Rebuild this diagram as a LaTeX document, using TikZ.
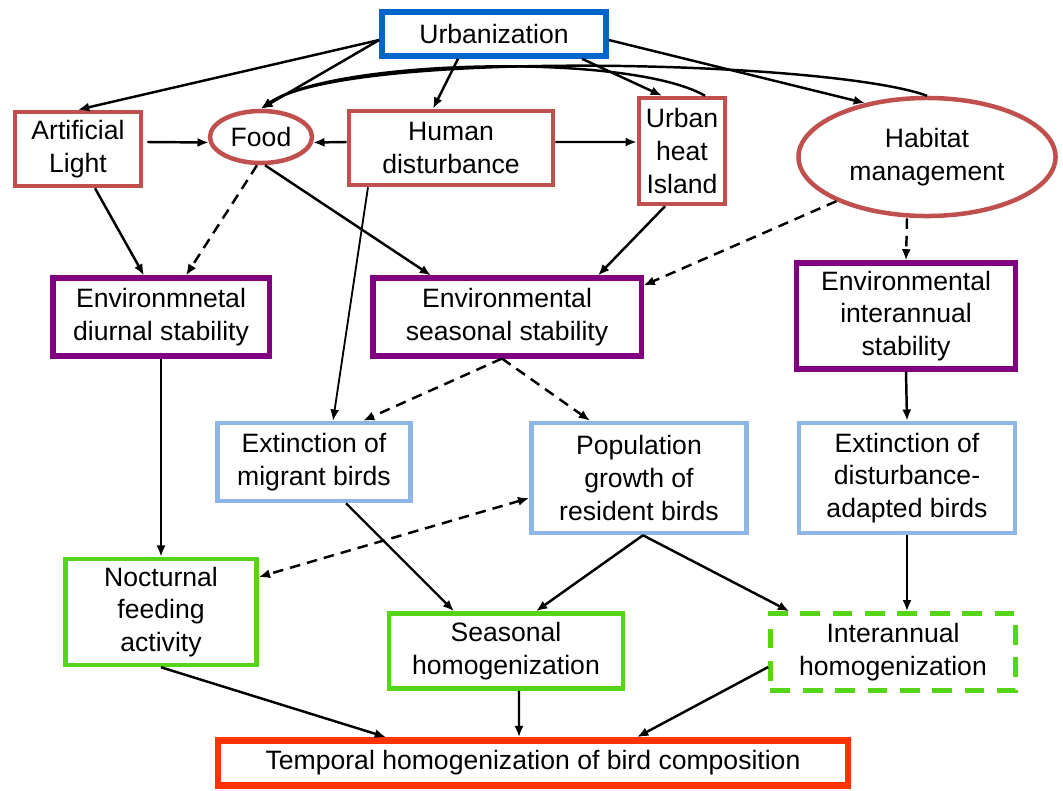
\documentclass[tikz,border=0pt]{standalone}
\usepackage{fontspec}
\setmainfont{Liberation Sans}
\usepackage{tikz}
\usetikzlibrary{arrows.meta,positioning}
\usetikzlibrary{shapes.geometric}
\tikzset{>=latex}

\definecolor{urbblue}{RGB}{0,102,204}
\definecolor{driver}{RGB}{192,80,77}
\definecolor{stab}{RGB}{128,0,128}
\definecolor{birds}{RGB}{141,182,230}
\definecolor{homog}{RGB}{84,214,22}
\definecolor{outcome}{RGB}{255,51,0}

\begin{document}
\begin{tikzpicture}[x=0.025cm, y=-0.025cm,
                >={Latex[length=8pt,width=6.5pt]},
                every node/.append style={align=center, font=\fontsize{18.9}{23.3}\selectfont},
                box/.style={draw=#1, line width=3.2pt, inner sep=1pt},
                oval/.style={ellipse, draw=driver, line width=3.2pt, inner sep=0pt},
                ln/.style={->, line width=1.75pt},
                dl/.style={ln, dash pattern=on 7.5pt off 5pt}]

\useasboundingbox (0,0) rectangle (1063,790);

\node[box=urbblue, line width=4pt, minimum width=5.6cm, minimum height=1.1cm] (urb) at (494,34) {Urbanization};

\node[box=driver, minimum width=3.15cm, minimum height=1.85cm] (light) at (78,149) {Artificial\\Light};
\node[oval, minimum width=2.55cm, minimum height=1.3cm] (food) at (261,137) {Food};
\node[box=driver, minimum width=5.1cm, minimum height=1.85cm] (human) at (451,148) {Human\\disturbance};
\node[box=driver, minimum width=2.15cm, minimum height=2.65cm] (uhi) at (682,151) {Urban\\heat\\Island};
\node[oval, minimum width=6.425cm, minimum height=2.95cm] (habitat) at (927,157) {Habitat\\management};

\node[box=stab, line width=3.6pt, minimum width=5.4cm, minimum height=1.95cm] (diurnal) at (161,317) {Environmnetal\\diurnal stability};
\node[box=stab, line width=3.6pt, minimum width=6.7cm, minimum height=1.95cm] (seasonal) at (507,317) {Environmental\\seasonal stability};
\node[box=stab, line width=3.6pt, minimum width=5.475cm, minimum height=2.65cm] (interann) at (906,316) {Environmental\\interannual\\stability};

\node[box=birds, minimum width=4.825cm, minimum height=1.95cm] (migrant) at (314,462) {Extinction of\\migrant birds};
\node[box=birds, minimum width=5.375cm, minimum height=2.75cm] (popgrowth) at (639,478) {Population\\growth of\\resident birds};
\node[box=birds, minimum width=5.4cm, minimum height=2.75cm] (distadapt) at (907,478) {Extinction of\\disturbance-\\adapted birds};

\node[box=homog, minimum width=4.775cm, minimum height=2.65cm] (nocturnal) at (161,612) {Nocturnal\\feeding\\activity};
\node[box=homog, minimum width=5.85cm, minimum height=1.875cm] (seashom) at (506,651) {Seasonal\\homogenization};
\node[box=homog, dash pattern=on 14pt off 9pt, minimum width=6.125cm, minimum height=1.925cm] (intahom) at (893,652) {Interannual\\homogenization};

\node[box=outcome, line width=4.8pt, minimum width=15.75cm, minimum height=1.125cm] (temporal) at (533,763) {Temporal homogenization of bird composition};

\path[ln] ([yshift=-0.15cm]urb.west) edge (light.north)
    ([yshift=-0.15cm]urb.west) edge (food.north)
    ([xshift=-0.9cm]urb.south) edge ([xshift=-0.45cm]human.north)
    ([xshift=2.2cm]urb.south) edge ([xshift=-0.5cm]uhi.north)
    ([yshift=-0.15cm]urb.east) edge (habitat.139)
    ([xshift=0.575cm]uhi.north) edge[out=150, in=35, looseness=0.5] (food.north)
    (habitat.north) edge[out=160, in=35, looseness=0.4] (food.north)
    ([xshift=0.1cm, yshift=0.175cm]light.east) edge (food.186)
    ([yshift=0.15cm]human.west) edge (food.-6)
    ([yshift=0.15cm]human.east) edge ([yshift=0.225cm]uhi.west)
    ([xshift=0.425cm]light.south) edge ([xshift=-0.425cm]diurnal.north)
    ([xshift=0.1cm]food.south) edge ([xshift=-1.9cm]seasonal.north)
    ([xshift=-0.425cm]uhi.south) edge ([xshift=2.275cm]seasonal.north)
    (diurnal.south) edge (nocturnal.north)
    (interann.south) edge (distadapt.north)
    ([xshift=0.8cm]migrant.south) edge ([xshift=-1.3cm]seashom.north)
    ([xshift=0.1cm]popgrowth.south) edge ([xshift=0.75cm]seashom.north)
    ([xshift=0.1cm]popgrowth.south) edge ([xshift=0.525cm]intahom.north west)
    (distadapt.south) edge (distadapt.south |- intahom.north)
    (nocturnal.south) edge ([xshift=-3.675cm]temporal.north)
    ([xshift=0.325cm]seashom.south) edge ([xshift=-0.35cm]temporal.north)
    ([yshift=-0.375cm]intahom.west) edge ([xshift=2.6cm]temporal.north);
\path[ln, line width=1.3pt] ([xshift=-2.075cm]human.south) edge ([xshift=0.475cm]migrant.north);
\path[dl] ([xshift=-0.1cm]food.south) edge ([xshift=0.625cm]diurnal.north)
    (habitat.206) edge ([yshift=-0.25cm]seasonal.north east)
    ([xshift=-0.5cm]habitat.south) edge (interann.north)
    ([xshift=-0.125cm]seasonal.south) edge ([xshift=1.225cm]migrant.north)
    ([xshift=-0.125cm]seasonal.south) edge ([xshift=-1.225cm]popgrowth.north)
    ([yshift=-0.5cm]popgrowth.west) edge[<->] ([yshift=0.875cm]nocturnal.east);

\end{tikzpicture}
\end{document}
